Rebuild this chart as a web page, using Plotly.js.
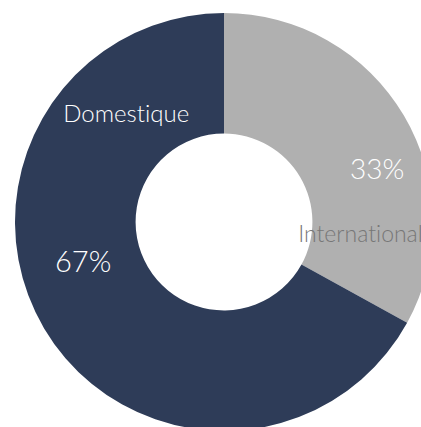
<!DOCTYPE html>
<html>
<head>
<meta charset="utf-8">
<script src="https://cdn.plot.ly/plotly-3.0.1.min.js"></script>
<style>
html,body{margin:0;padding:0;width:421px;height:427px;overflow:hidden;background:#fff;}
#chart{position:absolute;left:15px;top:13px;width:418px;height:418px;}
#chart text{font-variant-ligatures:none;font-feature-settings:"liga" 0, "clig" 0;}
</style>
</head>
<body>
<div id="chart"></div>
<script>
const categories = ["International", "Domestique"];
const values = [33, 67];
const percentLabels = ["33%", "67%"];
const colors = ["#B0B0B0", "#2E3C58"];

const trace = {
  type: "pie",
  labels: categories,
  values: values,
  hole: 0.423,
  sort: false,
  direction: "clockwise",
  rotation: 0,
  textinfo: "none",
  hoverinfo: "label+percent",
  marker: {colors: colors, line: {width: 0}},
  showlegend: false,
  domain: {x: [0, 1], y: [0, 1]}
};

const fontFam = "Lato, 'Open Sans', sans-serif";
const annotations = [
  {text: categories[1], x: 0.2656, y: 0.761, font: {color: "#ffffff", size: 24, family: fontFam, weight: 300}},
  {text: percentLabels[1], x: 0.163, y: 0.409, font: {color: "#ffffff", size: 29, family: fontFam, weight: 300}},
  {text: percentLabels[0], x: 0.866, y: 0.629, font: {color: "#ffffff", size: 28, family: fontFam, weight: 300}},
  {text: categories[0], x: 0.672, y: 0.474, xanchor: "left", font: {color: "#777777", size: 23, family: fontFam, weight: 300}}
].map(a => Object.assign({xref: "paper", yref: "paper", showarrow: false, xanchor: "center", yanchor: "middle"}, a));

const layout = {
  width: 418,
  height: 418,
  margin: {l: 0, r: 0, t: 0, b: 0},
  paper_bgcolor: "rgba(0,0,0,0)",
  plot_bgcolor: "rgba(0,0,0,0)",
  annotations: annotations
};

Plotly.newPlot("chart", [trace], layout, {displayModeBar: false, staticPlot: true});
</script>
</body>
</html>
